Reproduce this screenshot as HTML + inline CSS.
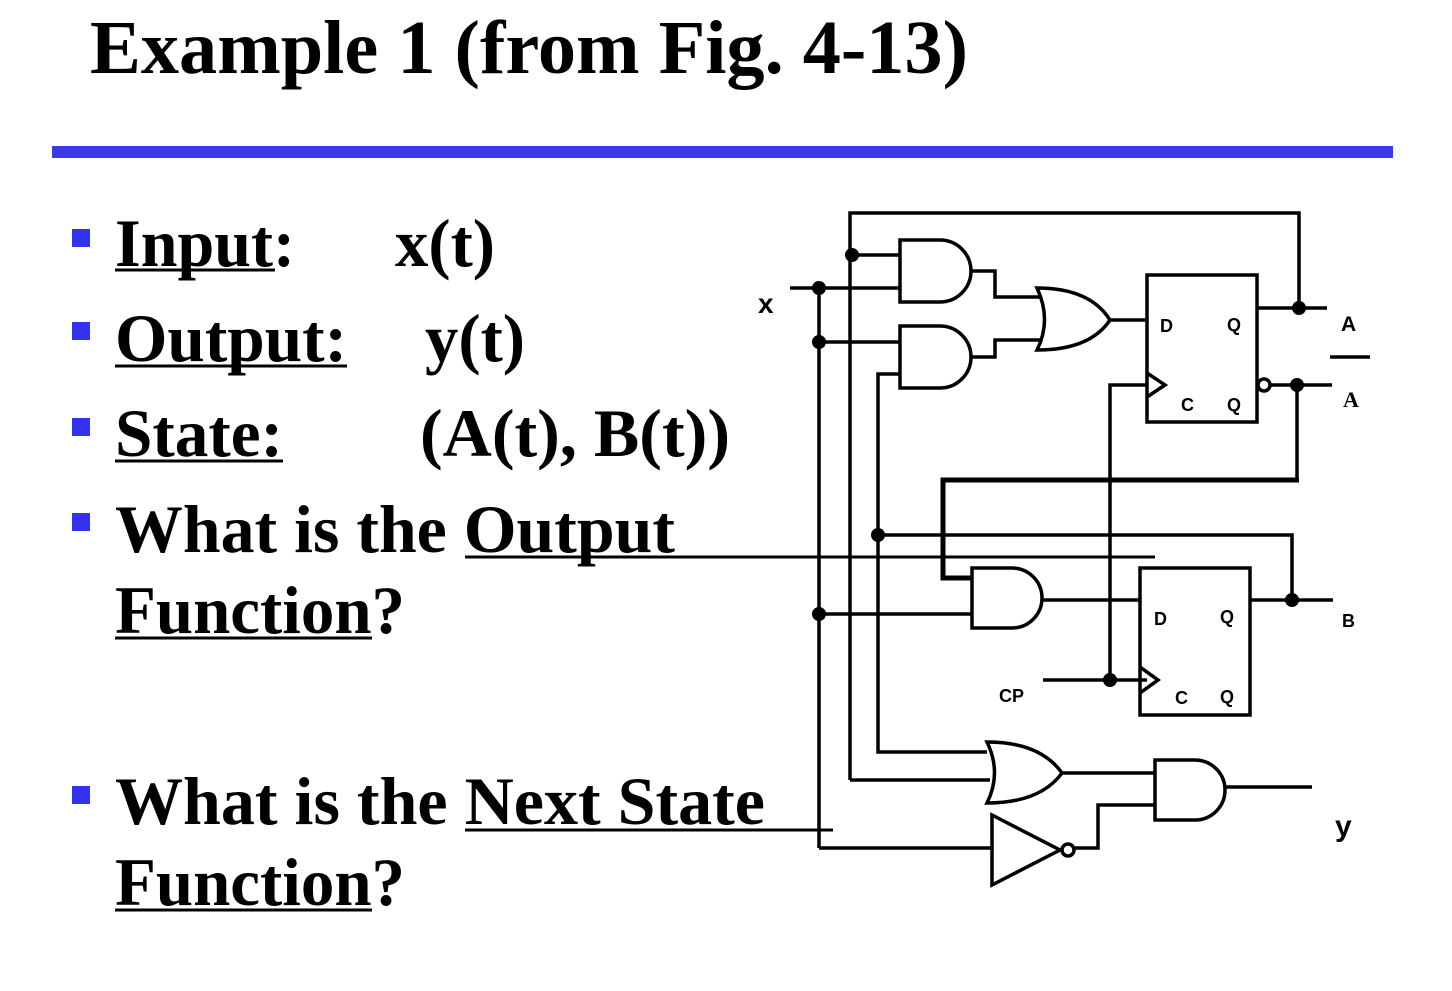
<!DOCTYPE html>
<html><head><meta charset="utf-8"><style>
html,body{margin:0;padding:0;background:#fff;}
svg{display:block;}
.t{font-family:"Liberation Serif",serif;font-weight:bold;fill:#000;}
.s{font-family:"Liberation Sans",sans-serif;font-weight:bold;fill:#000;}
</style></head><body>
<svg width="1452" height="991" viewBox="0 0 1452 991" xmlns="http://www.w3.org/2000/svg">
<text class="t" x="90" y="73" font-size="76" textLength="878" lengthAdjust="spacingAndGlyphs">Example 1 (from Fig. 4-13)</text>
<rect x="52" y="146" width="1341" height="12" fill="#3a3ae8"/>
<g fill="#3333ee">
<rect x="72" y="229" width="18" height="18"/><rect x="72" y="322" width="18" height="18"/>
<rect x="72" y="418" width="18" height="18"/><rect x="72" y="513" width="18" height="18"/>
<rect x="72" y="786" width="18" height="18"/>
</g>
<g class="t" font-size="68">
<text x="115" y="266" textLength="180" lengthAdjust="spacingAndGlyphs">Input:</text>
<text x="395" y="266" textLength="100" lengthAdjust="spacingAndGlyphs">x(t)</text>
<text x="115" y="361" textLength="232" lengthAdjust="spacingAndGlyphs">Output:</text>
<text x="425" y="361" textLength="100" lengthAdjust="spacingAndGlyphs">y(t)</text>
<text x="115" y="456" textLength="168" lengthAdjust="spacingAndGlyphs">State:</text>
<text x="420" y="456" textLength="310" lengthAdjust="spacingAndGlyphs">(A(t), B(t))</text>
<text x="115" y="552" textLength="560" lengthAdjust="spacingAndGlyphs">What is the Output</text>
<text x="115" y="633" textLength="290" lengthAdjust="spacingAndGlyphs">Function?</text>
<text x="115" y="824" textLength="650" lengthAdjust="spacingAndGlyphs">What is the Next State</text>
<text x="115" y="905" textLength="290" lengthAdjust="spacingAndGlyphs">Function?</text>
</g>
<g stroke="#000" stroke-width="3" fill="none">
<line x1="115" y1="270" x2="275" y2="270"/>
<line x1="115" y1="366" x2="347" y2="366"/>
<line x1="115" y1="461" x2="283" y2="461"/>
<line x1="115" y1="638" x2="372" y2="638"/>
<line x1="115" y1="910" x2="372" y2="910"/>
<line x1="465" y1="557" x2="1155" y2="557"/>
<line x1="465" y1="830" x2="833" y2="830"/>
</g>
<g stroke="#000" stroke-width="3.5" fill="none" stroke-linejoin="miter">
<polyline points="850,780 850,213 1299,213 1299,308"/>
<line x1="852" y1="255" x2="900" y2="255"/>
<line x1="790" y1="288" x2="900" y2="288"/>
<line x1="819" y1="288" x2="819" y2="848"/>
<line x1="819" y1="342" x2="900" y2="342"/>
<polyline points="900,374 878,374 878,752 987,752"/>
<line x1="850" y1="780" x2="990" y2="780"/>
<path d="M900,240 H940 A31,31 0 0 1 940,302 H900 Z"/>
<polyline points="970,271 995,271 995,297 1040,297"/>
<path d="M900,326 H940 A31,31 0 0 1 940,388 H900 Z"/>
<polyline points="970,357 995,357 995,340 1040,340"/>
<path d="M1037,288 Q1090,288 1110,320 Q1090,350 1037,350 Q1052,320 1037,288 Z"/>
<line x1="1110" y1="320" x2="1147" y2="320"/>
<rect x="1147" y="275" width="110" height="147"/>
<polyline points="1147,373 1165,385 1147,397"/>
<line x1="1257" y1="308" x2="1327" y2="308"/>
<circle cx="1264" cy="385" r="6"/>
<line x1="1270" y1="385" x2="1332" y2="385"/>
<line x1="1297" y1="385" x2="1297" y2="480"/>
<line x1="1330" y1="357" x2="1370" y2="357"/>
<polyline points="1147,385 1110,385 1110,680"/>
<line x1="1043" y1="680" x2="1147" y2="680"/>
<polyline points="878,535 1292,535 1292,600"/>
<path d="M972,568 H1012 A30,30 0 0 1 1012,628 H972 Z"/>
<line x1="819" y1="614" x2="972" y2="614"/>
<line x1="1043" y1="600" x2="1140" y2="600"/>
<rect x="1140" y="568" width="110" height="147"/>
<polyline points="1140,667 1158,680 1140,693"/>
<line x1="1250" y1="600" x2="1333" y2="600"/>
<path d="M987,742 Q1040,742 1062,773 Q1040,803 987,803 Q1002,773 987,742 Z"/>
<line x1="1062" y1="773" x2="1155" y2="773"/>
<path d="M1155,760 H1195 A30,30 0 0 1 1195,820 H1155 Z"/>
<line x1="1225" y1="787" x2="1312" y2="787"/>
<line x1="819" y1="848" x2="992" y2="848"/>
<path d="M992,815 L1060,850 L992,885 Z"/>
<circle cx="1068" cy="850" r="6"/>
<polyline points="1074,848 1098,848 1098,805 1155,805"/>
</g>
<g stroke="#000" stroke-width="5" fill="none">
<polyline points="1299,480 943,480 943,578 972,578"/>
</g>
<g fill="#000">
<circle cx="852" cy="255" r="7"/><circle cx="819" cy="288" r="7"/><circle cx="819" cy="342" r="7"/>
<circle cx="1299" cy="308" r="7"/><circle cx="1297" cy="385" r="7"/><circle cx="878" cy="535" r="7"/>
<circle cx="819" cy="614" r="7"/><circle cx="1292" cy="600" r="7"/><circle cx="1110" cy="680" r="7"/>
</g>
<g class="s" font-size="18">
<text x="1160" y="332">D</text><text x="1227" y="331">Q</text>
<text x="1181" y="411">C</text><text x="1227" y="411">Q</text>
<text x="1154" y="625">D</text><text x="1220" y="623">Q</text>
<text x="1175" y="704">C</text><text x="1220" y="703">Q</text>
<text x="999" y="702">CP</text>
<text x="1342" y="627">B</text>
<text x="1341" y="331" font-size="21">A</text>
</g>
<text class="s" x="758" y="313" font-size="28">x</text>
<text class="s" x="1335" y="836" font-size="30">y</text>
<text class="t" x="1343" y="407" font-size="22">A</text>
</svg>
</body></html>
